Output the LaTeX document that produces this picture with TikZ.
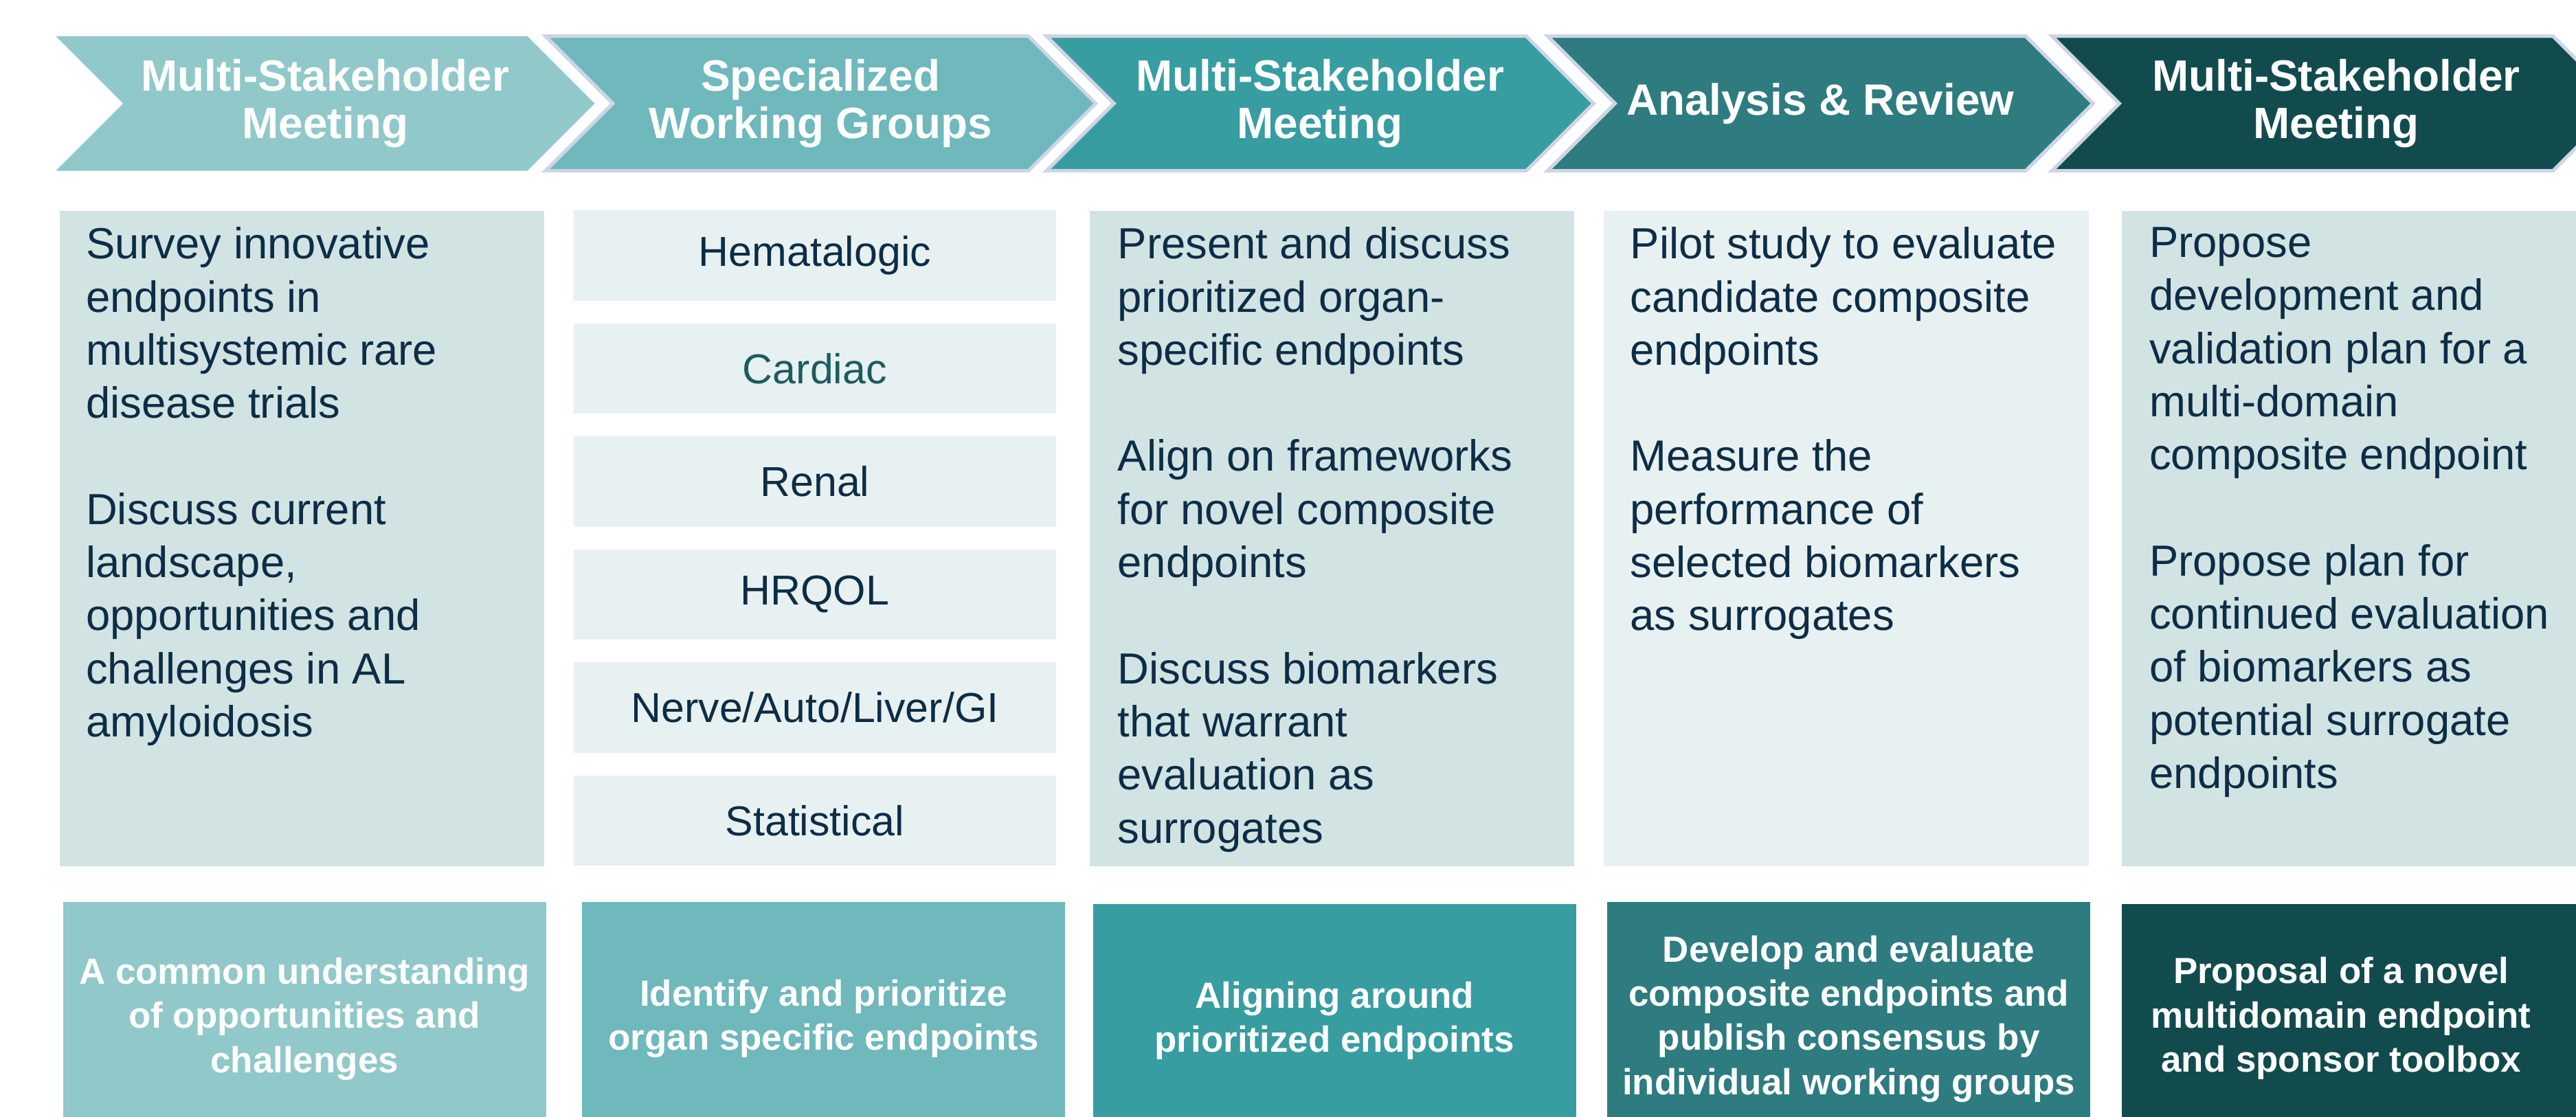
\documentclass[tikz,border=0pt]{standalone}
\usepackage{fontspec}
\setmainfont{Liberation Sans}
\usetikzlibrary{positioning}

\definecolor{stageA}{HTML}{91C8CA}
\definecolor{stageB}{HTML}{6FB8BC}
\definecolor{stageC}{HTML}{379DA1}
\definecolor{stageD}{HTML}{2E7C7F}
\definecolor{stageE}{HTML}{114B4D}
\definecolor{panelDark}{HTML}{D1E3E3}
\definecolor{panelLight}{HTML}{E8F1F1}
\definecolor{rim}{HTML}{CDD5E5}
\definecolor{ink}{HTML}{0D2D46}
\definecolor{inkTeal}{HTML}{1B5C60}

\tikzset{
  head/.style={text=white, align=center, inner sep=0pt,
    font=\fontsize{15.2}{16.5}\selectfont\bfseries},
  panel/.style={anchor=north west, inner sep=0pt, minimum width=5.9cm, minimum height=7.98cm},
  body/.style={anchor=north west, inner sep=0pt, align=left, text=ink,
    font=\fontsize{15.1}{18.4}\selectfont},
  group/.style={fill=panelLight, inner sep=0pt, minimum width=5.88cm, minimum height=1.1cm,
    text=ink, font=\fontsize{14.5}{17}\selectfont},
  outcome/.style={anchor=north west, inner sep=0pt, minimum width=5.88cm, minimum height=2.84cm,
    text=white, align=center, font=\fontsize{12.6}{15.3}\selectfont\bfseries},
  outtext/.style={text=white, align=center, inner sep=0pt,
    font=\fontsize{12.6}{15.3}\selectfont\bfseries}
}

\begin{document}
\begin{tikzpicture}[x=0.02cm, y=-0.02cm]
\clip (0,0) rectangle (1568,680);

% stage chevrons
\foreach \l/\r/\col/\bd in {34/321/stageA/none, 332/626/stageB/rim, 637/929/stageC/rim,
    942/1233/stageD/rim, 1249/1554/stageE/rim}
  \path[fill=\col, draw=\bd, line width=1.2pt]
    (\l,22) -- (\r,22) -- (\r+41,63) -- (\r,104) -- (\l,104) -- (\l+41,63) -- cycle;

\node[head] (hd1) at (198,63) {Multi-Stakeholder\\Meeting};
\node[head] (hd2) at (499.5,63) {Specialized\\Working Groups};
\node[head] (hd3) at (803.5,63) {Multi-Stakeholder\\Meeting};
\node[head] (hd4) at (1108,63) {Analysis \& Review};
\node[head] (hd5) at (1422,63) {Multi-Stakeholder\\Meeting};

% activity panels
\node[panel, fill=panelDark] (p1) at (36,128) {};
\node[body] (t1) at ([shift={(16,10)}]p1.north west)
  {Survey innovative\\endpoints in\\multisystemic rare\\disease trials\\[18.4pt]
   Discuss current\\landscape,\\opportunities and\\challenges in AL\\amyloidosis};

\foreach \g [count=\i from 0] in {Hematalogic, \textcolor{inkTeal}{Cardiac}, Renal, HRQOL,
    Nerve/Auto/Liver/GI, Statistical}
  \node[group] (g\i) at (496,155.5+68.8*\i) {\g};

\node[panel, fill=panelDark] (p3) at (663,128) {};
\node[body] (t3) at ([shift={(17,10)}]p3.north west)
  {Present and discuss\\prioritized organ-\\specific endpoints\\[18.4pt]
   Align on frameworks\\for novel composite\\endpoints\\[18.4pt]
   Discuss biomarkers\\that warrant\\evaluation as\\surrogates};

\node[panel, fill=panelLight] (p4) at (976,128) {};
\node[body] (t4) at ([shift={(16,10)}]p4.north west)
  {Pilot study to evaluate\\candidate composite\\endpoints\\[18.4pt]
   Measure the\\performance of\\selected biomarkers\\as surrogates};

\node[panel, fill=panelDark, minimum width=6.2cm] (p5) at (1291,128) {};
\node[body] (t5) at ([shift={(17,10)}]p5.north west)
  {Propose\\development and\\validation plan for a\\multi-domain\\composite endpoint\\[18.4pt]
   Propose plan for\\continued evaluation\\of biomarkers as\\potential surrogate\\endpoints};

% outcomes
\node[outcome, fill=stageA] (o1) at (38,549)
  {A common understanding\\of opportunities and\\challenges};
\node[outcome, fill=stageB] (o2) at (354,549)
  {Identify and prioritize\\organ specific endpoints};
\node[outcome, fill=stageC] (o3) at (665,550)
  {Aligning around\\prioritized endpoints};
\node[outcome, fill=stageD] (o4) at (978,549)
  {Develop and evaluate\\composite endpoints and\\publish consensus by\\individual working groups};
\node[outcome, fill=stageE, minimum width=6.2cm] (o5) at (1291,550) {};
\node[outtext] (o5t) at (1425,620)
  {Proposal of a novel\\multidomain endpoint\\and sponsor toolbox};
\end{tikzpicture}
\end{document}
